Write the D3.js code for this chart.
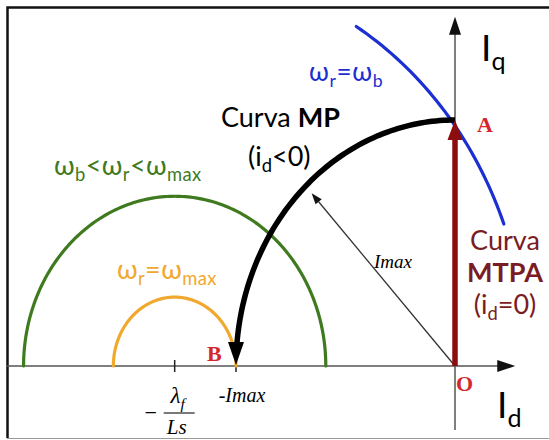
<!DOCTYPE html>
<html>
<head>
<meta charset="utf-8">
<script src="https://cdn.jsdelivr.net/npm/d3@7"></script>
<style>
  body { margin: 0; background: #fff; }
  svg { display: block; }
</style>
</head>
<body>
<div id="chart"></div>
<script>
// all values are in units of Imax (Id on x, Iq on y)
const lambdaOverLs = -1.28;          // -λf/Ls, centre of the voltage circles
const imax = 1;
const circleNames = ['green', 'orange', 'blue'];
const circleRadii = [0.69, 0.28, 1.61];
const circleFrom = [0, 0, 21];       // degrees
const circleTo = [180, 180, 59];
const mpFrom = 90, mpTo = 180;       // MP curve, current limit circle
const tickValues = [lambdaOverLs, -imax];
const imaxArrowAngle = 133;
const imaxArrowLength = 0.96;
const axisX = [-2.05, 0.275];
const axisY = [-0.26, 1.42];

const colors = {
  green: '#3f7a1f',
  orange: '#f0a82e',
  blue: '#1c2fd2',
  mtpa: '#8c0d0d',
  mtpaText: '#7a1c24',
  point: '#d4262b',
  axis: '#555'
};

const width = 549, height = 440;

const svg = d3.select('#chart')
  .append('svg')
  .attr('width', width)
  .attr('height', height);

const x = d3.scaleLinear().domain([-2, 0]).range([17, 455]);
const y = d3.scaleLinear().domain([0, 1]).range([366, 120]);

const line = d3.line().x(d => x(d[0])).y(d => y(d[1]));
const rad = a => a * Math.PI / 180;

function arcPoints(cx, r, a0, a1) {
  return d3.range(a0, a1 + 0.01, 1).map(a => [cx + r * Math.cos(rad(a)), r * Math.sin(rad(a))]);
}

function tri(tip, dir, len, half) {
  // triangle with tip at `tip` pointing along `dir` (pixel space)
  const n = Math.hypot(dir[0], dir[1]);
  const ux = dir[0] / n, uy = dir[1] / n;
  const bx = tip[0] - ux * len, by = tip[1] - uy * len;
  return [[tip[0], tip[1]], [bx - uy * half, by + ux * half], [bx + uy * half, by - ux * half]];
}

// frame
svg.append('path')
  .attr('d', `M${width},7.5 H7.5 V438`)
  .attr('fill', 'none')
  .attr('stroke', '#111')
  .attr('stroke-width', 2.5);
svg.append('line')
  .attr('x1', 7).attr('x2', width)
  .attr('y1', 438.5).attr('y2', 438.5)
  .attr('stroke', '#999')
  .attr('stroke-width', 1);

// axes
svg.append('line')
  .attr('x1', x(axisX[0])).attr('x2', x(axisX[1]) - 10)
  .attr('y1', y(0)).attr('y2', y(0))
  .attr('stroke', colors.axis).attr('stroke-width', 1.5);
svg.append('line')
  .attr('x1', x(0)).attr('x2', x(0))
  .attr('y1', y(axisY[0])).attr('y2', y(axisY[1]) + 10)
  .attr('stroke', colors.axis).attr('stroke-width', 1.5);
svg.append('polygon')
  .attr('points', tri([x(axisX[1]), y(0)], [1, 0], 18, 6).join(' '))
  .attr('fill', '#111');
svg.append('polygon')
  .attr('points', tri([x(0), y(axisY[1])], [0, -1], 18, 6).join(' '))
  .attr('fill', '#111');

// ticks on Id
svg.selectAll('.tick')
  .data(tickValues)
  .enter().append('line')
  .attr('class', 'tick')
  .attr('x1', d => x(d)).attr('x2', d => x(d))
  .attr('y1', y(0) - 6).attr('y2', y(0) + 6)
  .attr('stroke', '#222').attr('stroke-width', 1.5);

// voltage limit circles
svg.selectAll('.vcircle')
  .data(circleNames)
  .enter().append('path')
  .attr('class', 'vcircle')
  .attr('d', (d, i) => line(arcPoints(lambdaOverLs, circleRadii[i], circleFrom[i], circleTo[i])))
  .attr('fill', 'none')
  .attr('stroke', d => colors[d])
  .attr('stroke-width', 3.2)
  .attr('stroke-linecap', 'round');

// Imax radius arrow
const tipU = [imaxArrowLength * Math.cos(rad(imaxArrowAngle)), imaxArrowLength * Math.sin(rad(imaxArrowAngle))];
const tipP = [x(tipU[0]), y(tipU[1])];
const dirP = [tipP[0] - x(0), tipP[1] - y(0)];
const headI = tri(tipP, dirP, 11, 4);
svg.append('line')
  .attr('x1', x(0)).attr('y1', y(0))
  .attr('x2', (headI[1][0] + headI[2][0]) / 2).attr('y2', (headI[1][1] + headI[2][1]) / 2)
  .attr('stroke', '#333').attr('stroke-width', 1.3);
svg.append('polygon')
  .attr('points', headI.join(' '))
  .attr('fill', '#111');

// MP curve (current limit circle) from A to B
svg.append('path')
  .attr('d', line(arcPoints(0, imax, mpFrom, mpTo - 5)))
  .attr('fill', 'none')
  .attr('stroke', '#000')
  .attr('stroke-width', 5.5);
svg.append('polygon')
  .attr('points', tri([x(-imax), y(0) - 1], [0, 1], 23, 8).join(' '))
  .attr('fill', '#000');

// MTPA arrow O -> A
svg.append('line')
  .attr('x1', x(0)).attr('x2', x(0))
  .attr('y1', y(0)).attr('y2', y(imax) + 18)
  .attr('stroke', colors.mtpa).attr('stroke-width', 5.5);
svg.append('polygon')
  .attr('points', tri([x(0), y(imax)], [0, -1], 20, 7.5).join(' '))
  .attr('fill', colors.mtpa);

// blue circle drawn over the arrow near A
svg.select('.vcircle:last-of-type').raise();

// rich text helper: parts = [{t, sub, b, i}]
function rich(px, py, parts, opt) {
  const t = svg.append('text')
    .attr('x', px).attr('y', py)
    .attr('font-family', opt.family || 'Lato, "Open Sans", sans-serif')
    .attr('font-size', opt.size)
    .attr('fill', opt.color || '#000')
    .attr('text-anchor', opt.anchor || 'start');
  if (opt.spacing) t.attr('letter-spacing', opt.spacing);
  let shifted = false;
  parts.forEach(p => {
    const s = t.append('tspan').text(p.t);
    if (p.sub) {
      s.attr('font-size', opt.size * 0.68).attr('dy', shifted ? 0 : opt.size * 0.24);
      shifted = true;
    } else if (shifted) {
      s.attr('dy', -opt.size * 0.24);
      shifted = false;
    }
    if (p.b) s.attr('font-weight', 'bold');
    if (p.i) s.attr('font-style', 'italic');
  });
  return t;
}

// axis names
rich(481, 61, [{t: 'I'}, {t: 'q', sub: 1}], {size: 37});
rich(497, 418, [{t: 'I'}, {t: 'd', sub: 1}], {size: 37});

// circle labels
rich(309, 81, [{t: 'ω'}, {t: 'r', sub: 1}, {t: '=ω'}, {t: 'b', sub: 1}], {size: 26, color: colors.blue, spacing: 0.6});
rich(54, 175, [{t: 'ω'}, {t: 'b', sub: 1}, {t: '<ω'}, {t: 'r', sub: 1}, {t: '<ω'}, {t: 'max', sub: 1}], {size: 27, color: colors.green, spacing: 0.4});
rich(117, 279, [{t: 'ω'}, {t: 'r', sub: 1}, {t: '=ω'}, {t: 'max', sub: 1}], {size: 27, color: colors.orange, spacing: 0.4});

// curve labels
rich(221, 127, [{t: 'Curva '}, {t: 'MP', b: 1}], {size: 27});
rich(248, 166, [{t: '(i'}, {t: 'd', sub: 1}, {t: '<0)'}], {size: 27});

rich(505, 250, [{t: 'Curva'}], {size: 27, color: colors.mtpaText, anchor: 'middle'});
rich(505, 282, [{t: 'MTPA', b: 1}], {size: 27, color: colors.mtpaText, anchor: 'middle'});
rich(505, 314, [{t: '(i'}, {t: 'd', sub: 1}, {t: '=0)'}], {size: 27, color: colors.mtpaText, anchor: 'middle'});

// points
const serif = '"Liberation Serif", "DejaVu Serif", serif';
rich(477, 132, [{t: 'A', b: 1}], {size: 22, color: colors.point, family: serif});
rich(207, 361, [{t: 'B', b: 1}], {size: 22, color: colors.point, family: serif});
rich(456, 391, [{t: 'O', b: 1}], {size: 22, color: colors.point, family: serif});

// value labels
rich(374, 268, [{t: 'Imax', i: 1}], {size: 19, family: serif});
rich(x(-imax) + 6, 402, [{t: '-Imax', i: 1}], {size: 20, family: serif, anchor: 'middle'});

// -λf/Ls fraction
const fx = x(lambdaOverLs) + 2;
rich(fx - 26, 420, [{t: '−'}], {size: 22, family: serif, anchor: 'middle'});
svg.append('line')
  .attr('x1', fx - 13).attr('x2', fx + 18)
  .attr('y1', 413).attr('y2', 413)
  .attr('stroke', '#222').attr('stroke-width', 1.2);
rich(fx + 1, 403, [{t: 'λ', i: 1}, {t: 'f', sub: 1, i: 1}], {size: 23, family: serif, anchor: 'middle'});
rich(fx, 434, [{t: 'Ls', i: 1}], {size: 21, family: serif, anchor: 'middle'});
</script>
</body>
</html>
